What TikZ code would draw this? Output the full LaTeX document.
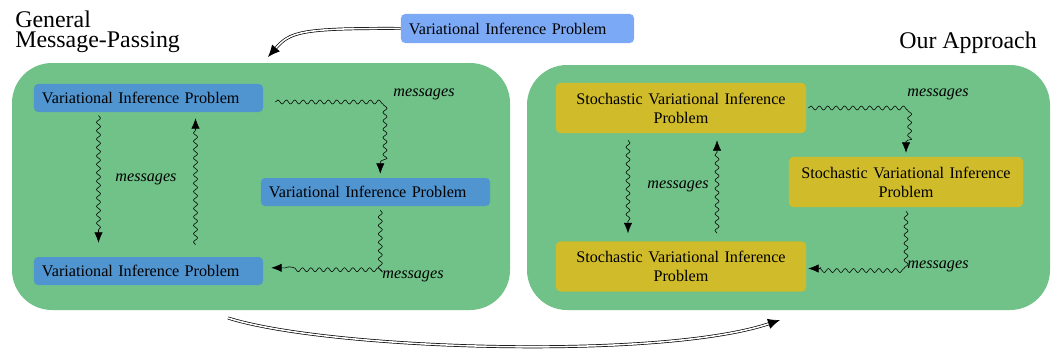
\documentclass[tikz,border=0pt]{standalone}
\usepackage{fontspec}
\setmainfont{Liberation Serif}
\usetikzlibrary{decorations.pathmorphing,arrows.meta}

\definecolor{panelgreen}{HTML}{70C288}
\definecolor{vipblue}{HTML}{5094D0}
\definecolor{viplight}{HTML}{7CA9F5}
\definecolor{svipyellow}{HTML}{D0BB2A}

\begin{document}
\begin{tikzpicture}[x=0.025cm, y=-0.025cm,
    font=\fontsize{11.5}{13.5}\selectfont,
    msg/.style={draw, -{Latex[length=2.6mm,width=2.1mm]},
      decorate, decoration={snake, amplitude=0.5mm, segment length=2.1mm, post length=2.6mm}},
    bigarrow/.style={double, double distance=1.1pt, line width=0.5pt, -{Latex[length=3mm,width=2.6mm]}},
    msglabel/.style={font=\fontsize{11.5}{13}\selectfont\itshape}]

      \useasboundingbox (0,0) rectangle (1057,356);

      % Panels
      \fill[panelgreen, rounded corners=1cm] (12,63) rectangle (510,310);
      \fill[panelgreen, rounded corners=1cm] (527,65) rectangle (1050,310);

      % Titles
      \node[anchor=north west, align=left, inner sep=0pt, font=\fontsize{17}{14}\selectfont] (gmp) at (15,11) {General\\Message-Passing};
      \node[anchor=base east, inner sep=0pt, font=\fontsize{17}{14}\selectfont] (ours) at (1037,48) {Our Approach};

      % Nodes
      \node[fill=viplight, rounded corners=3pt, minimum width=5.825cm, minimum height=0.725cm,
        text width=5.425cm, inner xsep=0.2cm, align=left] (prob) at (517.5,28.5) {Variational Inference Problem};

      \begin{scope}[every node/.style={fill=vipblue, rounded corners=3pt, minimum width=5.725cm,
          minimum height=0.7cm, text width=5.325cm, inner xsep=0.2cm, align=left}]
        \node (v1) at (148.5,98) {Variational Inference Problem};
        \node (v2) at (375.5,192) {Variational Inference Problem};
        \node (v3) at (148.5,271) {Variational Inference Problem};
      \end{scope}

      \begin{scope}[every node/.style={fill=svipyellow, rounded corners=3pt, minimum height=1.25cm,
          inner xsep=0.2cm, align=center}]
        \node[minimum width=6.25cm, text width=5.85cm] (s1) at (681,108) {Stochastic Variational Inference\\Problem};
        \node[minimum width=5.85cm, text width=5.45cm] (s2) at (906,182) {Stochastic Variational Inference\\Problem};
        \node[minimum width=6.25cm, text width=5.85cm] (s3) at (681,266.5) {Stochastic Variational Inference\\Problem};
      \end{scope}

      % Messages
      \draw[msg] ([xshift=0.3cm,yshift=-0.1cm]v1.east) -| ([xshift=0.12cm,yshift=0.1cm]v2.north);
      \draw[msg] ([xshift=0.12cm,yshift=-0.1cm]v2.south) |- ([xshift=0.2cm,yshift=0.08cm]v3.east);
      \draw[msg] ([xshift=-1.25cm,yshift=-0.08cm]v1.south) -- ([xshift=-1.25cm,yshift=0.35cm]v3.north);
      \draw[msg] ([xshift=1.175cm,yshift=0.3cm]v3.north) -- ([xshift=1.175cm,yshift=-0.15cm]v1.south);

      \draw[msg] ([xshift=0.05cm]s1.east) -| ([yshift=0.1cm]s2.north);
      \draw[msg] ([yshift=-0.1cm]s2.south) |- ([xshift=0.05cm,yshift=-0.05cm]s3.east);
      \draw[msg] ([xshift=-1.325cm,yshift=-0.175cm]s1.south) -- ([xshift=-1.325cm,yshift=0.2cm]s3.north);
      \draw[msg] ([xshift=0.9cm,yshift=0.2cm]s3.north) -- ([xshift=0.9cm,yshift=-0.175cm]s1.south);

      % Labels
      \begin{scope}[every node/.style={msglabel}]
        \node (m1) at (424,94) {messages};
        \node (m2) at (413,276) {messages};
        \node (m3) at (146,179) {messages};
        \node (m4) at (938,94) {messages};
        \node (m5) at (938,266) {messages};
        \node (m6) at (678,186) {messages};
      \end{scope}

      % Big arrows
      \coordinate (gmpin) at (268,57);
      \coordinate (oursin) at (780,320);
      \coordinate (gmpout) at (228,318);
      \draw[bigarrow] (prob.west) .. controls (300,28) and (290,32) .. (gmpin);
      \draw[bigarrow] (gmpout) .. controls (330,350) and (660,360) .. (oursin);

    \end{tikzpicture}
\end{document}
